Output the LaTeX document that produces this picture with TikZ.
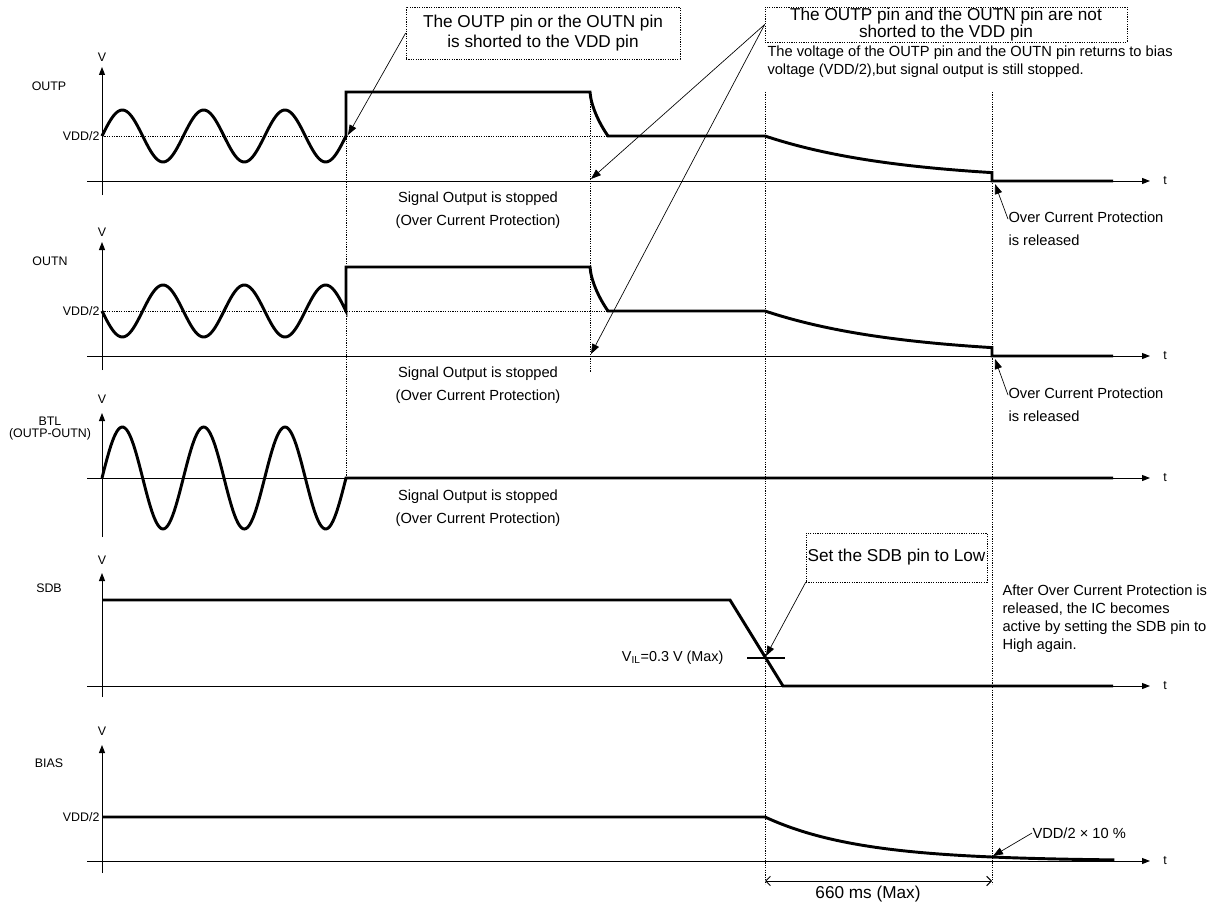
\documentclass[tikz,border=0pt]{standalone}
\usepackage{fontspec}
\setmainfont{Liberation Sans}
\usetikzlibrary{arrows.meta}

\tikzset{every picture/.style={line width=0.75pt}}
\tikzset{
  sig/.style={line width=2.2pt},
  guide/.style={line width=0.5pt, dash pattern={on 0.9pt off 0.9pt}},
  axis/.style={-{Triangle[length=6pt,width=4.5pt]}},
  pointer/.style={line width=0.5pt, -{Triangle[length=7.5pt,width=5.5pt]}},
  callout/.style={draw, line width=0.5pt, dash pattern={on 0.9pt off 0.9pt}, align=center, inner sep=0pt},
  tag/.style={inner sep=0pt, font=\fontsize{9.3}{11}\selectfont},
  note/.style={inner sep=0pt, align=center, font=\fontsize{11}{17.25}\selectfont},
}

\begin{document}
\begin{tikzpicture}[x=0.75pt,y=0.75pt,yscale=-1,xscale=1]
		\useasboundingbox (0,0) rectangle (1215,906);
		
		%Guide Lines
		\draw [guide] (102,136) -- (608,136) ;
		\draw [guide] (102,311) -- (608,311) ;
		\draw [guide] (346,136) -- (346,478) ;
		\draw [guide] (590,92) -- (590,372) ;
		\draw [guide] (765,92) -- (765,884) ;
		\draw [guide] (992,92) -- (992,884) ;
		
		%Axes OUTP
		\draw [axis] (102,195) -- (102,67) ;
		\draw [axis] (87,181) -- (1150,181) ;
		%Axes OUTN
		\draw [axis] (102,370) -- (102,242) ;
		\draw [axis] (87,356) -- (1150,356) ;
		%Axes BTL
		\draw [axis] (102,537) -- (102,413) ;
		\draw [axis] (87,478) -- (1150,478) ;
		%Axes SDB
		\draw [axis] (102,697) -- (102,573) ;
		\draw [axis] (87,686) -- (1150,686) ;
		%Axes BIAS
		\draw [axis] (102,873) -- (102,745) ;
		\draw [axis] (87,861) -- (1150,861) ;
		
		%Curve Lines OUTP
		\draw [sig] plot[domain=102:346, samples=150, smooth] (\x,{136-26*sin((\x-102)*4.42623)})
			-- (346,92) -- (590,92) .. controls (591,106) and (599,123) .. (608,136) -- (765,136)
			-- plot[domain=765:992, samples=60, smooth] (\x,{181-45*exp(-(\x-765)/135)})
			-- (992,181) -- (1113,181) ;
		%Curve Lines OUTN
		\draw [sig] plot[domain=102:346, samples=150, smooth] (\x,{311+26*sin((\x-102)*4.42623)})
			-- (346,267) -- (590,267) .. controls (591,281) and (599,298) .. (608,311) -- (765,311)
			-- plot[domain=765:992, samples=60, smooth] (\x,{356-45*exp(-(\x-765)/135)})
			-- (992,356) -- (1113,356) ;
		%Curve Lines BTL
		\draw [sig] plot[domain=102:346, samples=150, smooth] (\x,{478-51*sin((\x-102)*4.42623)})
			-- (1113,478) ;
		%Straight Lines SDB
		\draw [sig] (102,600) -- (730,600) -- (783,686) -- (1113,686) ;
		\draw [sig] (747,658) -- (785,658) ;
		%Curve Lines BIAS
		\draw [sig] (102,817) -- (765,817)
			-- plot[domain=765:1113, samples=80, smooth] (\x,{861-44*exp(-(\x-765)/94.7)})
			-- (1113,861) ;
		
		% Text Node
		\draw (102,57) node [tag] {V};
		\draw (102,232) node [tag] {V};
		\draw (102,399) node [tag] {V};
		\draw (102,560) node [tag] {V};
		\draw (102,731) node [tag] {V};
		% Text Node
		\draw (1165,181) node [tag] {t};
		\draw (1165,356) node [tag] {t};
		\draw (1165,478) node [tag] {t};
		\draw (1165,686) node [tag] {t};
		\draw (1165,861) node [tag] {t};
		% Text Node
		\draw (49,86) node (lblOutp) [tag] {OUTP};
		\draw (50,261) node (lblOutn) [tag] {OUTN};
		\draw (50,428.5) node (lblBtl) [tag, align=center, font=\fontsize{9.3}{8.5}\selectfont] {BTL\\(OUTP-OUTN)};
		\draw (49,588) node (lblSdb) [tag] {SDB};
		\draw (49,763) node (lblBias) [tag] {BIAS};
		% Text Node
		\draw (100,136) node (halfP) [tag, anchor=east] {VDD/2};
		\draw (100,311) node (halfN) [tag, anchor=east] {VDD/2};
		\draw (100,817) node (halfB) [tag, anchor=east] {VDD/2};
		
		% Text Node
		\draw (478,210.5) node (stopP) [note] {Signal Output is stopped\\(Over Current Protection)};
		\draw (478,385.5) node (stopN) [note] {Signal Output is stopped\\(Over Current Protection)};
		\draw (478,508.5) node (stopB) [note] {Signal Output is stopped\\(Over Current Protection)};
		% Text Node
		\draw (1008,228.5) node (relP) [note, anchor=west, align=left] {Over Current Protection\\is released};
		\draw (1008,404.5) node (relN) [note, anchor=west, align=left] {Over Current Protection\\is released};
		\coordinate (relPtip) at (995,184);
		\coordinate (relNtip) at (995,359);
		\draw [pointer] ([yshift=6pt]relP.north west) -- (relPtip) ;
		\draw [pointer] ([yshift=6pt]relN.north west) -- (relNtip) ;
		
		%Shape: Rectangle
		\draw (543,33) node (shortBox) [callout, minimum width=205.5pt, minimum height=39pt, font=\fontsize{12.9}{15}\selectfont] {The OUTP pin or the OUTN pin\\is shorted to the VDD pin};
		\coordinate (shortTip) at (348,135);
		\draw [pointer] (shortBox.west) -- (shortTip) ;
		
		%Shape: Rectangle
		\draw (946,24.5) node (openBox) [callout, minimum width=271.5pt, minimum height=26.25pt, font=\fontsize{12.9}{12.75}\selectfont] {The OUTP pin and the OUTN pin are not\\shorted to the VDD pin};
		\coordinate (openTipP) at (591,179);
		\coordinate (openTipN) at (591,354);
		\draw [pointer] (openBox.west) -- (openTipP) ;
		\draw [pointer] (openBox.west) -- (openTipN) ;
		% Text Node
		\draw (767,62) node (openNote) [inner sep=0pt, anchor=west, align=left, font=\fontsize{11}{13.5}\selectfont] {The voltage of the OUTP pin and the OUTN pin returns to bias\\voltage (VDD/2),but signal output is still stopped.};
		
		%Shape: Rectangle
		\draw (896.5,557.5) node (lowBox) [callout, minimum width=135.75pt, minimum height=36.75pt, font=\fontsize{12.9}{15}\selectfont] {Set the SDB pin to Low};
		\coordinate (lowTip) at (766,656);
		\draw [pointer] (lowBox.south west) -- (lowTip) ;
		% Text Node
		\draw (724,658) node (vilNote) [tag, anchor=east, font=\fontsize{10.8}{12}\selectfont] {V\textsubscript{IL}=0.3 V (Max)};
		\draw (1002,619) node (againNote) [inner sep=0pt, anchor=west, align=left, font=\fontsize{11}{13.5}\selectfont] {After Over Current Protection is\\released, the IC becomes\\active by setting the SDB pin to\\High again.};
		
		% Text Node
		\draw (1032,833) node (tenNote) [inner sep=0pt, anchor=west, font=\fontsize{11}{13}\selectfont] {VDD/2 × 10 \%};
		\coordinate (tenTip) at (993,856);
		\draw [pointer] (tenNote.west) -- (tenTip) ;
		
		%Dimension Line
		\coordinate (spanA) at (765,881);
		\coordinate (spanB) at (992,881);
		\draw [line width=0.75pt, {Straight Barb[length=3.5pt,width=7pt]}-{Straight Barb[length=3.5pt,width=7pt]}] (spanA) -- (spanB) ;
		\draw (868,894) node (spanNote) [inner sep=0pt, font=\fontsize{12.9}{15}\selectfont] {660 ms (Max)};
		
\end{tikzpicture}
\end{document}
